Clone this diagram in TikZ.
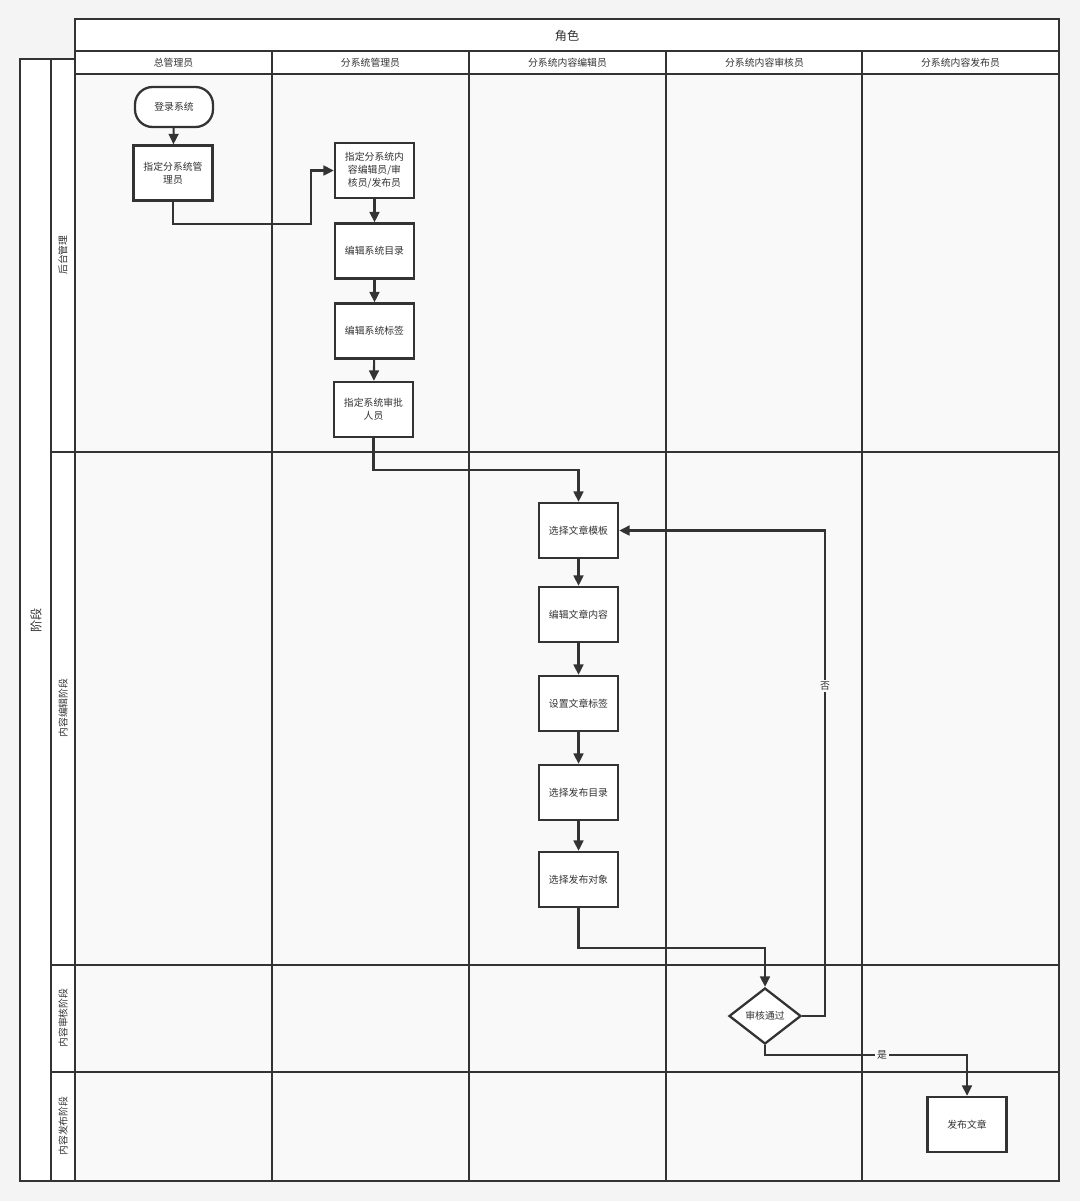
\documentclass[tikz,border=0pt]{standalone}
\usepackage{fontspec}
\setmainfont{Noto Sans CJK SC}
\usepackage{xcolor}
\usetikzlibrary{arrows.meta,positioning,shapes.geometric}
\definecolor{pagegray}{HTML}{F4F4F4}
\definecolor{lanegray}{HTML}{F9F9F9}
\definecolor{linegray}{HTML}{333333}
\definecolor{textgray}{HTML}{333333}
\tikzset{%
	lane/.style     = {draw=linegray, line width=1.1pt},
	header/.style   = {draw=linegray, line width=1.1pt, fill=white},
	lanetext/.style = {text=textgray, font=\fontsize{5.6}{7}\selectfont},
	bigtext/.style  = {text=textgray, font=\fontsize{6.9}{8}\selectfont},
	startstop/.style= {draw=linegray, fill=white, rectangle, rounded corners=10pt, line width=1.3pt, minimum width=1.56cm, minimum height=0.8cm, text centered, text=textgray, font=\fontsize{5.6}{7.4}\selectfont},
	process/.style  = {draw=linegray, fill=white, rectangle, line width=1.3pt, minimum width=1.58cm, minimum height=1.1cm, align=center, text=textgray, font=\fontsize{5.6}{7.4}\selectfont},
	decision/.style = {draw=linegray, fill=white, diamond, line width=1.3pt, inner sep=0pt, minimum width=1.44cm, minimum height=1.12cm, aspect=1.3, text=textgray, font=\fontsize{5.6}{7.4}\selectfont},
	arrow/.style    = {draw=linegray, line width=1.2pt, -{Triangle[length=6pt,width=5.6pt]}},
	flowlabel/.style= {fill=lanegray, inner sep=1pt, text=textgray, font=\fontsize{5.6}{7}\selectfont},
}
\begin{document}
\begin{tikzpicture}[x=0.02cm, y=-0.02cm]
		\fill[pagegray] (0,0) rectangle (1080,1201);
		\useasboundingbox (0,0) rectangle (1080,1201);
		% lanes
		\fill[lanegray] (75,74) rectangle (1059,1181);
		\draw[header] (75,19) rectangle (1059,51);
		\node[bigtext] (role) at (567,36) {角色};
		\foreach \x/\name in {75/总管理员, 272/分系统管理员, 469/分系统内容编辑员, 666/分系统内容审核员, 862/分系统内容发布员}{
			\draw[header] (\x,51) rectangle ++(197,23);
			\node[lanetext] (col-\x) at (\x+98.5,63) {\name};
		}
		\draw[header] (20,59) rectangle (51,1181);
		\draw[header] (51,59) rectangle (75,1181);
		\node[bigtext, rotate=90] (stage) at (36,620) {阶段};
		\foreach \y in {452,965,1072}
			\draw[lane] (51,\y) -- (1059,\y);
		\foreach \x in {272,469,666,862}
			\draw[lane] (\x,74) -- (\x,1181);
		\draw[lane] (75,74) rectangle (1059,1181);
		\node[lanetext, rotate=90] (row1) at (63,255) {后台管理};
		\node[lanetext, rotate=90] (row2) at (63,708) {内容编辑阶段};
		\node[lanetext, rotate=90] (row3) at (63,1018) {内容审核阶段};
		\node[lanetext, rotate=90] (row4) at (63,1126) {内容发布阶段};
		
		% steps
		\node[startstop] (login) at (174,107) {登录系统};
		\node[process] (assign) at (173,173) {指定分系统管\\理员};
		\node[process] (staff) at (374.5,170.5) {指定分系统内\\容编辑员/审\\核员/发布员};
		\node[process] (catalog) at (374.5,251) {编辑系统目录};
		\node[process] (systag) at (374.5,331) {编辑系统标签};
		\node[process] (approver) at (373.5,409.5) {指定系统审批\\人员};
		\node[process] (template) at (578.5,530.5) {选择文章模板};
		\node[process] (content) at (578.5,614.5) {编辑文章内容};
		\node[process] (arttag) at (578.5,703.5) {设置文章标签};
		\node[process] (target) at (578.5,792.5) {选择发布目录};
		\node[process] (audience) at (578.5,879.5) {选择发布对象};
		\node[decision] (check) at (765,1016) {审核通过};
		\node[process] (publish) at (967,1124.5) {发布文章};
		\coordinate (bendA) at (311,224);
		
		% flow
		\draw[arrow] (login) -- (assign);
		\draw[arrow] (assign.south) |- (bendA) |- (staff.west);
		\draw[arrow] (staff) -- (catalog);
		\draw[arrow] (catalog) -- (systag);
		\draw[arrow] (systag) -- (approver);
		\draw[arrow] (approver.south) -- ++(0,32) -| (template.north);
		\draw[arrow] (template) -- (content);
		\draw[arrow] (content) -- (arttag);
		\draw[arrow] (arttag) -- (target);
		\draw[arrow] (target) -- (audience);
		\draw[arrow] (audience.south) -- ++(0,40) -| (check.north);
		\draw[arrow] (check.east) -- ++(23,0) |- node[flowlabel, pos=0.34] {否} (template.east);
		\draw[arrow] (check.south) -- ++(0,10) -| node[flowlabel, pos=0.29] {是} (publish.north);
\end{tikzpicture}
\end{document}
